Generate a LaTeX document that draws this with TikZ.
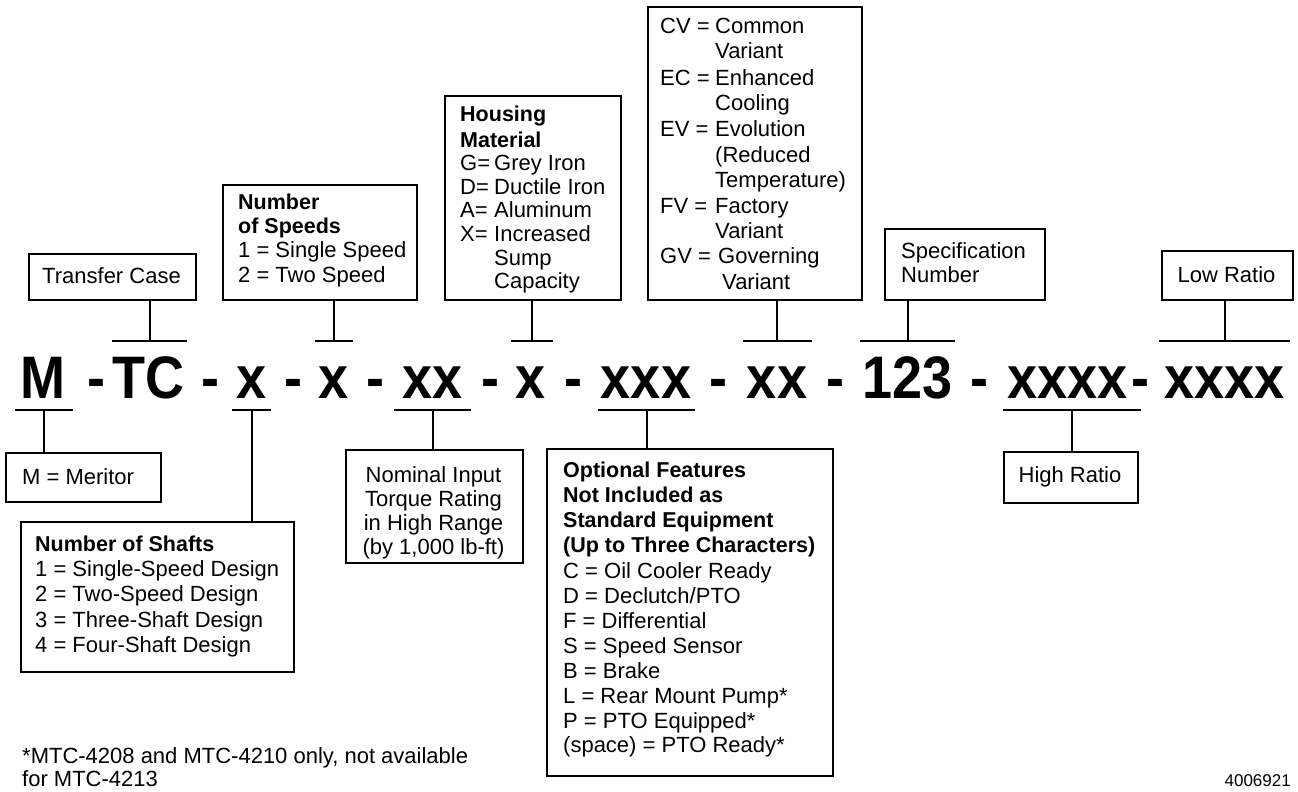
\documentclass[tikz,border=0pt]{standalone}
\usepackage{fontspec}
\setmainfont{Liberation Sans}
\newfontfamily\codefont[FakeStretch=0.9]{Liberation Sans}
\begin{document}
\begin{tikzpicture}[x=1pt,y=-1pt,
  box/.style={draw, line width=2.2pt, inner sep=0pt, anchor=north west},
  txt/.style={inner sep=0pt, anchor=base west, font=\fontsize{22}{25}\selectfont},
  txtb/.style={inner sep=0pt, anchor=base west, font=\fontsize{21.5}{25}\selectfont\bfseries},
  txtc/.style={inner sep=0pt, anchor=base, font=\fontsize{22}{25}\selectfont},
  code/.style={inner sep=0pt, anchor=base, font=\codefont\bfseries\fontsize{60}{60}\selectfont},
  tbar/.style={fill=black, draw=none, inner sep=0pt, minimum height=2.5pt, minimum width=#1},
  link/.style={line width=2pt}]
\useasboundingbox (0,0) rectangle (1298,792);

% ---- code line ----
\node[code] (c1) at (42.5,398) {M};
\node[code] (c2) at (96,398) {-};
\node[code] (c3) at (148,398) {TC};
\node[code] (c4) at (210.5,398) {-};
\node[code] (c5) at (251.5,398) {x};
\node[code] (c6) at (293.5,398) {-};
\node[code] (c7) at (333.5,398) {x};
\node[code] (c8) at (375,398) {-};
\node[code] (c9) at (432.5,398) {xx};
\node[code] (c10) at (490.5,398) {-};
\node[code] (c11) at (531,398) {x};
\node[code] (c12) at (573,398) {-};
\node[code] (c13) at (646,398) {xxx};
\node[code] (c14) at (718,398) {-};
\node[code] (c15) at (777,398) {xx};
\node[code] (c16) at (835,398) {-};
\node[code] (c17) at (907.5,398) {123};
\node[code] (c18) at (979.5,398) {-};
\node[code] (c19) at (1067.5,398) {xxxx};
\node[code] (c20) at (1140,398) {-};
\node[code] (c21) at (1224.5,398) {xxxx};

% ---- bars ----
\node[tbar=75pt] (bTC) at (149.5,341) {};
\node[tbar=38pt] (bSp) at (334,341) {};
\node[tbar=42pt] (bHo) at (532,341) {};
\node[tbar=69pt] (bGV) at (777,341) {};
\node[tbar=95pt] (bSpec) at (907.5,341) {};
\node[tbar=131pt] (bLow) at (1224.5,341) {};
\node[tbar=58pt] (bM) at (44,410) {};
\node[tbar=39pt] (bSh) at (251.5,410) {};
\node[tbar=77pt] (bNom) at (432.5,410) {};
\node[tbar=97pt] (bOpt) at (646.5,410) {};
\node[tbar=138pt] (bHigh) at (1072,410) {};

% ---- boxes ----
\node[box, minimum width=167pt, minimum height=46pt] (bxTC) at (28,253) {};
\node[box, minimum width=194pt, minimum height=115pt] (bxSp) at (222,184) {};
\node[box, minimum width=176pt, minimum height=204pt] (bxHo) at (444,95) {};
\node[box, minimum width=214pt, minimum height=293pt] (bxCV) at (647,6) {};
\node[box, minimum width=160pt, minimum height=71pt] (bxSpec) at (884,228) {};
\node[box, minimum width=131pt, minimum height=49pt] (bxLow) at (1161,250) {};
\node[box, minimum width=155pt, minimum height=49pt] (bxM) at (5,452) {};
\node[box, minimum width=273pt, minimum height=150pt] (bxSh) at (20,521) {};
\node[box, minimum width=177pt, minimum height=113pt] (bxNom) at (345,449) {};
\node[box, minimum width=286pt, minimum height=327pt] (bxOpt) at (546,448) {};
\node[box, minimum width=134pt, minimum height=51pt] (bxHigh) at (1003,451) {};

% ---- connectors ----
\draw[link] (bTC.center) -- (bTC.center |- bxTC.south);
\draw[link] (bSp.center) -- (bSp.center |- bxSp.south);
\draw[link] (bHo.center) -- (bHo.center |- bxHo.south);
\draw[link] (bGV.center) -- (bGV.center |- bxCV.south);
\draw[link] (bSpec.center) -- (bSpec.center |- bxSpec.south);
\draw[link] (bLow.center) -- (bLow.center |- bxLow.south);
\draw[link] (bM.center) -- (bM.center |- bxM.north);
\draw[link] (bSh.center) -- (bSh.center |- bxSh.north);
\draw[link] (bNom.center) -- (bNom.center |- bxNom.north);
\draw[link] (bOpt.center) -- (bOpt.center |- bxOpt.north);
\draw[link] (bHigh.center) -- (bHigh.center |- bxHigh.north);

% ---- texts ----
\node[txtc] (tTC) at (111.5,283) {Transfer Case};

\node[txtb] (tSp1) at (238,209) {Number};
\node[txtb] (tSp2) at (238,233) {of Speeds};
\node[txt] (tSp3) at (238,257) {1 = Single Speed};
\node[txt] (tSp4) at (238,282) {2 = Two Speed};

\node[txtb] (tHo1) at (460,121) {Housing};
\node[txtb] (tHo2) at (460,147) {Material};
\node[txt] (tHo3) at (460,170) {\makebox[34pt][l]{G=}Grey Iron};
\node[txt] (tHo4) at (460,194) {\makebox[34pt][l]{D=}Ductile Iron};
\node[txt] (tHo5) at (460,217) {\makebox[34pt][l]{A=}Aluminum};
\node[txt] (tHo6) at (460,241) {\makebox[34pt][l]{X=}Increased};
\node[txt] (tHo7) at (494,265) {Sump};
\node[txt] (tHo8) at (494,288) {Capacity};

\node[txt] (tCV1) at (660,34) {\makebox[55pt][l]{CV =}Common};
\node[txt] (tCV2) at (715,59) {Variant};
\node[txt] (tCV3) at (660,85) {\makebox[55pt][l]{EC =}Enhanced};
\node[txt] (tCV4) at (715,110) {Cooling};
\node[txt] (tCV5) at (660,136) {\makebox[55pt][l]{EV =}Evolution};
\node[txt] (tCV6) at (715,162) {(Reduced};
\node[txt] (tCV7) at (715,187) {Temperature)};
\node[txt] (tCV8) at (660,213) {\makebox[55pt][l]{FV =}Factory};
\node[txt] (tCV9) at (715,238) {Variant};
\node[txt] (tCV10) at (660,263) {\makebox[58pt][l]{GV =}Governing};
\node[txt] (tCV11) at (722,289) {Variant};

\node[txt] (tSpec1) at (901,258) {Specification};
\node[txt] (tSpec2) at (901,282) {Number};

\node[txtc] (tLow) at (1226.5,282) {Low Ratio};

\node[txt] (tM) at (22,484) {M = Meritor};

\node[txtb] (tSh1) at (35,551) {Number of Shafts};
\node[txt] (tSh2) at (35,576) {1 = Single-Speed Design};
\node[txt] (tSh3) at (35,601) {2 = Two-Speed Design};
\node[txt] (tSh4) at (35,627) {3 = Three-Shaft Design};
\node[txt] (tSh5) at (35,652) {4 = Four-Shaft Design};

\node[txtc] (tNom1) at (433.5,482) {Nominal Input};
\node[txtc] (tNom2) at (433.5,506) {Torque Rating};
\node[txtc] (tNom3) at (433.5,530) {in High Range};
\node[txtc] (tNom4) at (433.5,554) {(by 1,000 lb-ft)};

\node[txtb] (tOp1) at (563,477) {Optional Features};
\node[txtb] (tOp2) at (563,502) {Not Included as};
\node[txtb] (tOp3) at (563,527) {Standard Equipment};
\node[txtb] (tOp4) at (563,552) {(Up to Three Characters)};
\node[txt] (tOp5) at (563,578) {C = Oil Cooler Ready};
\node[txt] (tOp6) at (563,603) {D = Declutch/PTO};
\node[txt] (tOp7) at (563,628) {F = Differential};
\node[txt] (tOp8) at (563,653) {S = Speed Sensor};
\node[txt] (tOp9) at (563,678) {B = Brake};
\node[txt] (tOp10) at (563,703) {L = Rear Mount Pump*};
\node[txt] (tOp11) at (563,728) {P = PTO Equipped*};
\node[txt] (tOp12) at (563,752) {(space) = PTO Ready*};

\node[txtc] (tHigh) at (1070,482) {High Ratio};

\node[txt] (tFn1) at (22,763) {*MTC-4208 and MTC-4210 only, not available};
\node[txt] (tFn2) at (22,786) {for MTC-4213};
\node[inner sep=0pt, anchor=base east, font=\fontsize{17}{20}\selectfont] (tId) at (1291,786) {4006921};
\end{tikzpicture}
\end{document}
